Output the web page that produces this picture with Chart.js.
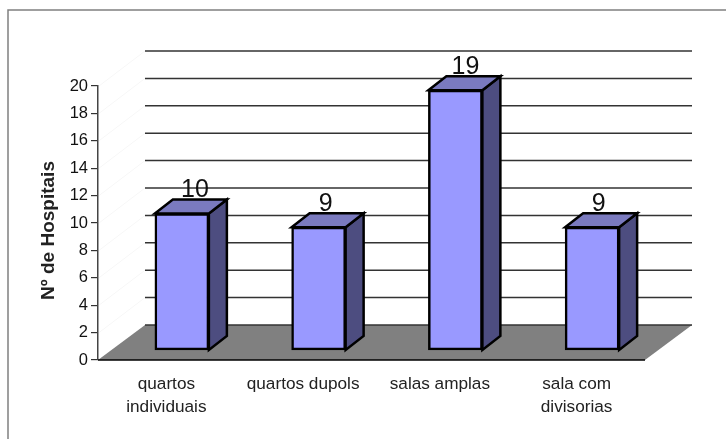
<!DOCTYPE html>
<html>
<head>
<meta charset="utf-8">
<title>Nº de Hospitais</title>
<script src="https://cdn.jsdelivr.net/npm/chart.js@4"></script>
<style>
    html, body { margin: 0; padding: 0; background: #fff; }
    canvas { display: block; }
</style>
</head>
<body>
<canvas id="mainChart" width="726" height="439"></canvas>
<script>
const categorias = [["quartos", "individuais"], "quartos dupols", "salas amplas", ["sala com", "divisorias"]];
const hospitais = [10, 9, 19, 9];
const tituloEixo = "Nº de Hospitais";

const FONT = '"Liberation Sans", Arial, sans-serif';

// profundidade do "piso" e das barras em pixels
const WALL_DX = 47, WALL_DY = 35;
const BAR_SHIFT_X = 15.5, BAR_SHIFT_Y = -9.5;
const BAR_DX = 18, BAR_DY = 14;
// deslocamento horizontal dos rotulos de valor, um por barra
const ROTULO_DX = [13, 7, 10, 6.5];

// === CENARIO 3D (moldura, parede, piso, faces das barras) ===
const cena3d = {
    id: "cena3d",
    beforeDraw(chart) {
        const ctx = chart.ctx;
        ctx.save();
        ctx.strokeStyle = "#808080";
        ctx.lineWidth = 1.5;
        ctx.beginPath();
        ctx.moveTo(8, 439);
        ctx.lineTo(8, 10);
        ctx.lineTo(726, 10);
        ctx.stroke();
        ctx.restore();
    },
    beforeDatasetsDraw(chart) {
        const ctx = chart.ctx;
        const y = chart.scales.y;
        const { left, right, bottom } = chart.chartArea;

        ctx.save();
        // piso
        ctx.fillStyle = "#808080";
        ctx.beginPath();
        ctx.moveTo(left, bottom);
        ctx.lineTo(left + WALL_DX, bottom - WALL_DY);
        ctx.lineTo(right + WALL_DX, bottom - WALL_DY);
        ctx.lineTo(right, bottom);
        ctx.closePath();
        ctx.fill();

        // linhas de grade na parede do fundo e na parede lateral
        y.ticks.forEach(t => {
            const py = y.getPixelForValue(t.value);
            ctx.strokeStyle = "#f7f7f7";
            ctx.lineWidth = 1;
            if (t.value > 0) {
                ctx.beginPath();
                ctx.moveTo(left + 1, py);
                ctx.lineTo(left + WALL_DX, py - WALL_DY);
                ctx.stroke();
            }
            ctx.strokeStyle = "#333";
            ctx.lineWidth = 1.5;
            ctx.beginPath();
            ctx.moveTo(left + WALL_DX, py - WALL_DY);
            ctx.lineTo(right + WALL_DX, py - WALL_DY);
            ctx.stroke();
        });

        // a linha do eixo X fica por cima do piso
        ctx.strokeStyle = "#000";
        ctx.lineWidth = 1.5;
        ctx.beginPath();
        ctx.moveTo(left, bottom);
        ctx.lineTo(right, bottom);
        ctx.stroke();

        // faces lateral e superior de cada barra
        ctx.translate(BAR_SHIFT_X, BAR_SHIFT_Y);
        ctx.lineWidth = 2.5;
        ctx.lineJoin = "miter";
        ctx.strokeStyle = "#000";
        chart.getDatasetMeta(0).data.forEach(bar => {
            const x0 = bar.x - bar.width / 2;
            const x1 = bar.x + bar.width / 2;
            ctx.fillStyle = "#4d4d80";
            ctx.beginPath();
            ctx.moveTo(x1, bar.y);
            ctx.lineTo(x1 + BAR_DX, bar.y - BAR_DY);
            ctx.lineTo(x1 + BAR_DX, bar.base - BAR_DY);
            ctx.lineTo(x1, bar.base);
            ctx.closePath();
            ctx.fill();
            ctx.stroke();

            ctx.fillStyle = "#7a7abf";
            ctx.beginPath();
            ctx.moveTo(x0, bar.y);
            ctx.lineTo(x0 + BAR_DX, bar.y - BAR_DY);
            ctx.lineTo(x1 + BAR_DX, bar.y - BAR_DY);
            ctx.lineTo(x1, bar.y);
            ctx.closePath();
            ctx.fill();
            ctx.stroke();
        });
        // continua transladado para a face frontal desenhada pela biblioteca
    },
    afterDatasetsDraw(chart) {
        const ctx = chart.ctx;
        ctx.restore();

        // valores em cima das barras
        ctx.save();
        ctx.fillStyle = "#111";
        ctx.font = `25px ${FONT}`;
        ctx.textAlign = "center";
        ctx.textBaseline = "alphabetic";
        chart.getDatasetMeta(0).data.forEach((bar, i) => {
            ctx.fillText(String(hospitais[i]), bar.x + BAR_SHIFT_X + ROTULO_DX[i], bar.y + BAR_SHIFT_Y - BAR_DY - 2.5);
        });

        // titulo do eixo Y
        ctx.translate(49, 230.5);
        ctx.rotate(-Math.PI / 2);
        ctx.fillStyle = "#222";
        ctx.font = `bold 19px ${FONT}`;
        ctx.textBaseline = "middle";
        ctx.fillText(tituloEixo, 0, 0);
        ctx.restore();
    }
};

new Chart(document.getElementById("mainChart"), {
    type: "bar",
    data: {
        labels: categorias,
        datasets: [{
            label: tituloEixo,
            data: hospitais,
            backgroundColor: "#9999ff",
            borderColor: "#000",
            borderWidth: 2.5,
            borderSkipped: false,
            barThickness: 54,
            clip: false
        }]
    },
    options: {
        responsive: false,
        animation: false,
        layout: { padding: { left: 40, top: 86, right: 81, bottom: 0 } },
        plugins: {
            legend: { display: false },
            title: { display: false },
            tooltip: { enabled: false }
        },
        scales: {
            x: {
                grid: { display: false },
                border: { display: false },
                ticks: {
                    color: "#222",
                    padding: 5,
                    maxRotation: 0,
                    font: { family: FONT, size: 17.2, lineHeight: 1.33 }
                },
                afterFit: s => { s.height = 79; }
            },
            y: {
                min: 0,
                max: 20,
                grid: { drawOnChartArea: false, color: "#333", tickLength: 7, lineWidth: 1.2 },
                border: { color: "#444", width: 1.5 },
                ticks: {
                    stepSize: 2,
                    color: "#111",
                    padding: 3,
                    font: { family: FONT, size: 16.5 }
                },
                afterFit: s => { s.width = 58; }
            }
        }
    },
    plugins: [cena3d]
});
</script>
</body>
</html>
